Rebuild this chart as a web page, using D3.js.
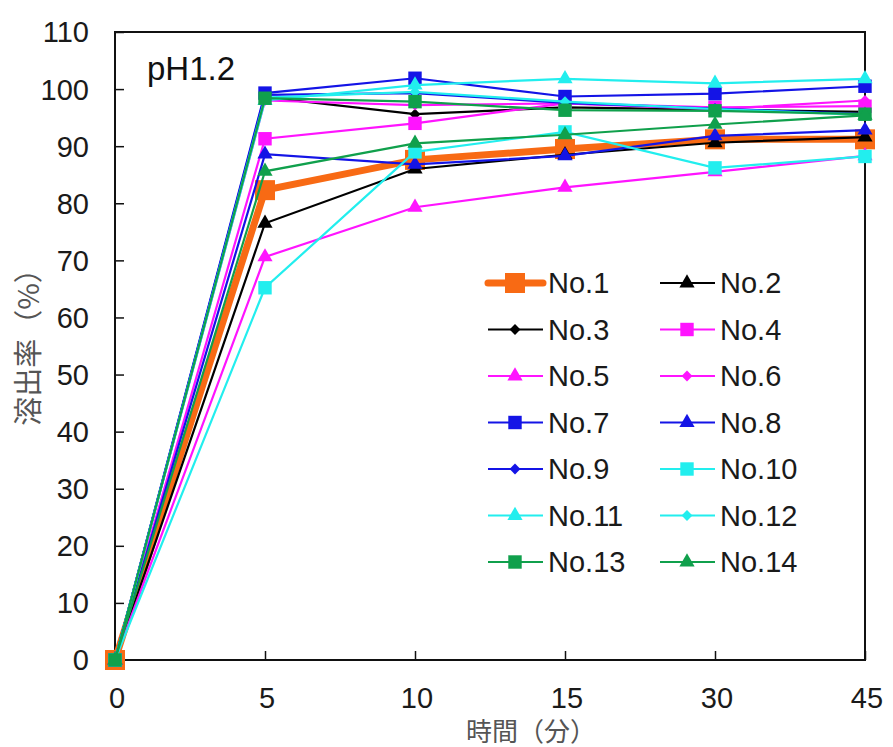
<!DOCTYPE html>
<html>
<head>
<meta charset="utf-8">
<script src="https://cdn.jsdelivr.net/npm/d3@7"></script>
<style>
  body { margin: 0; background: #fff; }
  svg { display: block; font-family: "Liberation Sans", Arial, sans-serif; }
  .jp { font-family: "Noto Sans CJK JP", sans-serif; }
</style>
</head>
<body>
<svg width="893" height="747"></svg>
<script>
// time points (min), shown as evenly spaced categories
var times = ["0", "5", "10", "15", "30", "45"];
var yTicks = [0, 10, 20, 30, 40, 50, 60, 70, 80, 90, 100, 110];

var names = ["No.1", "No.2", "No.3", "No.4", "No.5", "No.6", "No.7",
             "No.8", "No.9", "No.10", "No.11", "No.12", "No.13", "No.14"];

// dissolution rate (%)
var no1  = [0, 82.3, 87.6, 89.5, 91.2, 91.2];
var no2  = [0, 76.5, 86.0, 88.5, 90.6, 91.6];
var no3  = [0, 98.6, 95.6, 96.8, 96.4, 96.0];
var no4  = [0, 91.3, 94.0, 97.5, 96.8, 97.0];
var no5  = [0, 70.6, 79.3, 82.8, 85.5, 88.3];
var no6  = [0, 98.0, 97.2, 97.5, 96.5, 98.0];
var no7  = [0, 99.3, 101.9, 98.7, 99.2, 100.5];
var no8  = [0, 88.6, 86.8, 88.3, 91.8, 92.8];
var no9  = [0, 99.0, 99.3, 97.6, 96.6, 95.6];
var no10 = [0, 65.2, 89.0, 92.5, 86.2, 88.2];
var no11 = [0, 98.0, 100.7, 101.8, 101.0, 101.8];
var no12 = [0, 98.5, 99.5, 97.8, 96.5, 95.5];
var no13 = [0, 98.4, 97.8, 96.3, 96.2, 95.6];
var no14 = [0, 85.6, 90.5, 92.0, 93.8, 95.4];

var values = [no1, no2, no3, no4, no5, no6, no7, no8, no9, no10, no11, no12, no13, no14];

var colors = ["#f86a14", "#000000", "#000000", "#ff14ff", "#ff14ff", "#ff14ff", "#1414e6",
              "#1414e6", "#1414e6", "#22eeee", "#22eeee", "#22eeee", "#10a04c", "#10a04c"];
var shapes = ["square", "triangle", "diamond", "square", "triangle", "diamond", "square",
              "triangle", "diamond", "square", "triangle", "diamond", "square", "triangle"];

var svg = d3.select("svg");

var x = d3.scalePoint().domain(times).range([115, 865]);
var y = d3.scaleLinear().domain([0, 110]).range([660, 32]);

function symbolFor(shape, big) {
  if (shape == "square") return d3.symbol(d3.symbolSquare, big ? 400 : 180);
  if (shape == "triangle") return d3.symbol(d3.symbolTriangle, 100);
  return d3.symbol(d3.symbolDiamond2, 75);
}

// frame
svg.append("rect")
    .attr("x", 115).attr("y", 32)
    .attr("width", 750).attr("height", 628)
    .attr("fill", "none").attr("stroke", "#111").attr("stroke-width", 2);

// y axis
var yAxis = svg.append("g")
    .attr("transform", "translate(115,0)")
    .call(d3.axisRight(y).tickValues(yTicks).tickSize(9).tickFormat(""));
yAxis.select(".domain").remove();
yAxis.selectAll("line").attr("stroke", "#111").attr("stroke-width", 1.5);

svg.append("g").selectAll("text")
    .data(yTicks)
  .enter().append("text")
    .attr("x", 89)
    .attr("y", function(d) { return y(d); })
    .attr("dy", "0.36em")
    .attr("text-anchor", "end")
    .attr("font-size", 29)
    .attr("fill", "#1a1a1a")
    .text(function(d) { return d; });

// x axis
var xAxis = svg.append("g")
    .attr("transform", "translate(0,660)")
    .call(d3.axisTop(x).tickSize(9).tickFormat(""));
xAxis.select(".domain").remove();
xAxis.selectAll("line").attr("stroke", "#111").attr("stroke-width", 1.5);

svg.append("g").selectAll("text")
    .data(times)
  .enter().append("text")
    .attr("x", function(d) { return x(d) + 2; })
    .attr("y", 708)
    .attr("text-anchor", "middle")
    .attr("font-size", 29)
    .attr("fill", "#1a1a1a")
    .text(function(d) { return d; });

svg.append("text")
    .attr("class", "jp")
    .attr("x", 531).attr("y", 729)
    .attr("dominant-baseline", "central")
    .attr("text-anchor", "middle")
    .attr("font-size", 26)
    .attr("fill", "#555")
    .text("時間（分）");

svg.append("text")
    .attr("class", "jp")
    .attr("transform", "translate(26,340) rotate(-90)")
    .attr("dominant-baseline", "central")
    .attr("text-anchor", "middle")
    .attr("font-size", 29)
    .attr("fill", "#555")
    .text("溶出率（%）");

svg.append("text")
    .attr("x", 147).attr("y", 80)
    .attr("font-size", 33)
    .attr("fill", "#111")
    .text("pH1.2");

// series
var line = d3.line()
    .x(function(d, i) { return x(times[i]); })
    .y(function(d) { return y(d); });

var series = svg.append("g").selectAll("g")
    .data(values)
  .enter().append("g");

series.append("path")
    .attr("d", line)
    .attr("fill", "none")
    .attr("stroke", function(d, i) { return colors[i]; })
    .attr("stroke-width", function(d, i) { return i == 0 ? 7 : 2.2; });

series.each(function(vals, k) {
  d3.select(this).selectAll("path.pt")
      .data(vals)
    .enter().append("path")
      .attr("class", "pt")
      .attr("transform", function(d, i) { return "translate(" + x(times[i]) + "," + y(d) + ")"; })
      .attr("d", symbolFor(shapes[k], k == 0))
      .attr("fill", colors[k]);
});

// legend
var legend = svg.append("g").selectAll("g")
    .data(names)
  .enter().append("g")
    .attr("transform", function(d, i) {
      return "translate(" + (i % 2 ? 660 : 488) + "," + (283 + Math.floor(i / 2) * 46.5) + ")";
    });

legend.append("line")
    .attr("x1", 0).attr("x2", 55)
    .attr("stroke", function(d, i) { return colors[i]; })
    .attr("stroke-width", function(d, i) { return i == 0 ? 7 : 2.2; })
    .attr("stroke-linecap", function(d, i) { return i == 0 ? "round" : "butt"; });

legend.append("path")
    .attr("transform", "translate(27,0)")
    .attr("d", function(d, i) { return symbolFor(shapes[i], i == 0)(); })
    .attr("fill", function(d, i) { return colors[i]; });

legend.append("text")
    .attr("x", 60)
    .attr("dy", "0.36em")
    .attr("font-size", 29)
    .attr("fill", "#1a1a1a")
    .text(function(d) { return d; });
</script>
</body>
</html>
